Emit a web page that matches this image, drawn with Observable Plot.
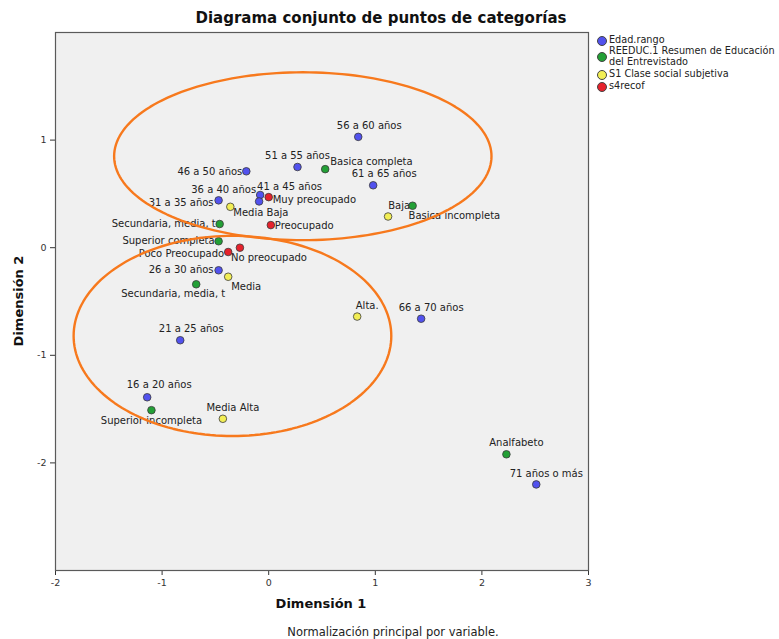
<!DOCTYPE html>
<html>
<head>
<meta charset="utf-8">
<script src="https://cdn.jsdelivr.net/npm/d3@7"></script>
<script src="https://cdn.jsdelivr.net/npm/@observablehq/plot@0.6"></script>
<style>
  html, body { margin: 0; padding: 0; background: #ffffff; }
  #wrap { position: relative; width: 779px; height: 639px; font-family: "DejaVu Sans", sans-serif; color: #222; }
  #wrap svg { position: absolute; left: 0; top: 0; }
  .abs { position: absolute; white-space: nowrap; }
  #title { left: 381px; top: 9px; transform: translateX(-50%); font-weight: bold; font-size: 15px; color: #111; }
  #xlab { left: 321px; top: 596px; transform: translateX(-50%); font-weight: bold; font-size: 13px; color: #111; }
  #ylab { left: 18px; top: 301px; transform: translate(-50%, -50%) rotate(-90deg); font-weight: bold; font-size: 13px; color: #111; }
  #caption { left: 393px; top: 625px; transform: translateX(-50%); font-size: 11.5px; color: #222; }
  .leg { position: absolute; left: 597px; width: 180px; font-size: 9.7px; line-height: 10.5px; color: #222; white-space: nowrap; }
  .leg .sw { position: absolute; left: 0; width: 8px; height: 8px; border-radius: 50%; border: 1px solid #444; }
  .leg .tx { position: absolute; left: 12px; white-space: nowrap; }
</style>
</head>
<body>
<div id="wrap">
  <div id="title" class="abs">Diagrama conjunto de puntos de categorías</div>
  <div id="xlab" class="abs">Dimensión 1</div>
  <div id="ylab" class="abs">Dimensión 2</div>
  <div id="caption" class="abs">Normalización principal por variable.</div>
  <div id="legend"></div>
</div>
<script>
// ---------- data ----------
const seriesNames = ["Edad.rango", "REEDUC.1 Resumen de Educación\ndel Entrevistado", "S1 Clase social subjetiva", "s4recof"];
const seriesColors = ["#5252ee", "#23a036", "#f2ee55", "#e6222c"];

const edadLabels = ["16 a 20 años","21 a 25 años","26 a 30 años","31 a 35 años","36 a 40 años","41 a 45 años","46 a 50 años","51 a 55 años","56 a 60 años","61 a 65 años","66 a 70 años","71 años o más"];
const edadX = [-1.14, -0.83, -0.47, -0.47, -0.08, -0.09, -0.21, 0.27, 0.84, 0.98, 1.43, 2.51];
const edadY = [-1.39, -0.86, -0.21, 0.44, 0.49, 0.43, 0.71, 0.75, 1.03, 0.58, -0.66, -2.20];

const educLabels = ["Analfabeto","Basica incompleta","Basica completa","Secundaria, media, t","Secundaria, media, t","Superior incompleta","Superior completa"];
const educX = [2.23, 1.35, 0.53, -0.68, -0.46, -1.10, -0.47];
const educY = [-1.92, 0.39, 0.73, -0.34, 0.22, -1.51, 0.06];

const claseLabels = ["Baja","Media Baja","Media","Media Alta","Alta."];
const claseX = [1.12, -0.36, -0.38, -0.43, 0.83];
const claseY = [0.29, 0.38, -0.27, -1.59, -0.64];

const recofLabels = ["Muy preocupado","Preocupado","Poco Preocupado","No preocupado"];
const recofX = [0.00, 0.02, -0.38, -0.27];
const recofY = [0.47, 0.21, -0.04, 0.00];

const xTicks = [-2, -1, 0, 1, 2, 3];
const yTicks = [-2, -1, 0, 1];

// hand-drawn annotation ellipses: [centerX, centerY, radiusX, radiusY]
const ellipses = [[0.32, 0.85, 1.77, 0.78], [-0.34, -0.82, 1.49, 0.93]];

// ---------- label placement (layout, separate from values) ----------
const edadPlace = [["middle",12,-12],["middle",11,-11],["end",-5,0],["end",-5,2],["end",-4,-5],["start",-2,-15],["end",-4,0],["middle",0,-11],["middle",11,-11],["middle",11,-11],["middle",10,-11],["middle",10,-11]];
const educPlace = [["middle",10,-11],["start",-4,10],["start",5,-7],["middle",-23,10],["end",-4,0],["middle",0,11],["end",-4,0]];
const clasePlace = [["middle",11,-11],["start",3,6],["start",3,10],["middle",10,-11],["middle",10,-11]];
const recofPlace = [["start",4,3],["start",4,1],["end",-4,2],["start",-9,10]];

// ---------- build rows ----------
const groups = [
  [edadLabels, edadX, edadY, edadPlace],
  [educLabels, educX, educY, educPlace],
  [claseLabels, claseX, claseY, clasePlace],
  [recofLabels, recofX, recofY, recofPlace]
];
const rows = [];
groups.forEach(([labs, xs, ys, pl], s) => {
  labs.forEach((lab, i) => rows.push({s, label: lab, x: xs[i], y: ys[i], anchor: pl[i][0], dx: pl[i][1], dy: pl[i][2]}));
});

const ellPts = [];
ellipses.forEach(([cx, cy, rx, ry], id) => {
  for (let k = 0; k <= 180; k++) {
    const t = (k / 180) * 2 * Math.PI;
    ellPts.push({id, x: cx + rx * Math.cos(t), y: cy + ry * Math.sin(t)});
  }
});

const labelGroups = d3.groups(rows, d => `${d.anchor}|${d.dx}|${d.dy}`);
const textMarks = labelGroups.map(([key, data]) => {
  const [anchor, dx, dy] = key.split("|");
  return Plot.text(data, {
    x: "x", y: "y", text: "label",
    textAnchor: anchor, dx: +dx, dy: +dy,
    fontSize: 10, fill: "#222", lineAnchor: "middle"
  });
});

const chart = Plot.plot({
  width: 779, height: 639,
  marginLeft: 55, marginRight: 191, marginTop: 32, marginBottom: 69,
  style: {fontFamily: "DejaVu Sans, sans-serif", fontSize: "9.5px", color: "#333", background: "transparent"},
  x: {domain: [-2, 3], ticks: xTicks, tickSize: 5, tickFormat: d => String(d), label: null},
  y: {domain: [-3, 2], ticks: yTicks, tickSize: 5, tickFormat: d => String(d), label: null},
  marks: [
    Plot.frame({fill: "#f0f0f0", stroke: null}),
    ...textMarks,
    Plot.dot(rows, {x: "x", y: "y", r: 3.8, fill: d => seriesColors[d.s], stroke: "#3a3a3a", strokeWidth: 0.8}),
    Plot.line(ellPts, {x: "x", y: "y", z: "id", stroke: "#f7791d", strokeWidth: 2.4}),
    Plot.frame({stroke: "#5a5a5a", strokeWidth: 1.2})
  ]
});
document.getElementById("wrap").prepend(chart);

// legend
const legTops = [35, 46, 69, 81];
const legCircleTops = [36, 52, 70, 82];
const legend = document.getElementById("legend");
seriesNames.forEach((name, i) => {
  const item = document.createElement("div");
  item.className = "leg";
  item.style.top = legTops[i] + "px";
  const sw = document.createElement("div");
  sw.className = "sw";
  sw.style.background = seriesColors[i];
  sw.style.top = (legCircleTops[i] - legTops[i]) + "px";
  const tx = document.createElement("div");
  tx.className = "tx";
  tx.innerHTML = name.split("\n").join("<br>");
  item.appendChild(sw);
  item.appendChild(tx);
  legend.appendChild(item);
});
</script>
</body>
</html>
